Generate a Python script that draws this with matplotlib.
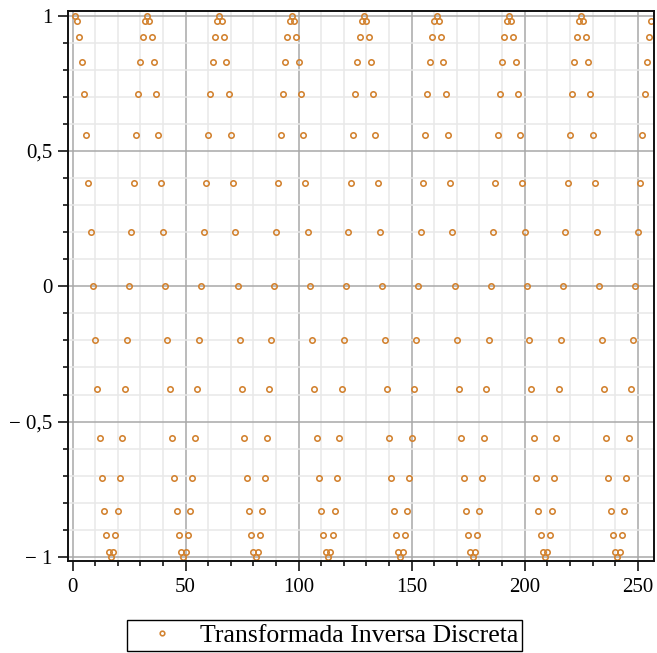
import numpy as np
import matplotlib
matplotlib.use("Agg")
import matplotlib.pyplot as plt
from matplotlib.ticker import MultipleLocator, FixedLocator, FixedFormatter

plt.rcParams['font.family'] = ['Liberation Serif', 'DejaVu Serif']

# one period (32 samples) of the reconstructed signal, repeated 8 times
one_period = [1.00, 0.98, 0.92, 0.83, 0.71, 0.56, 0.38, 0.20,
              0.00, -0.20, -0.38, -0.56, -0.71, -0.83, -0.92, -0.98,
              -1.00, -0.98, -0.92, -0.83, -0.71, -0.56, -0.38, -0.20,
              0.00, 0.20, 0.38, 0.56, 0.71, 0.83, 0.92, 0.98]
n_periods = 8
signal = np.tile(one_period, n_periods)
n = np.arange(1, len(signal) + 1)

xticks = [0, 50, 100, 150, 200, 250]
xticklabels = ['0', '50', '100', '150', '200', '250']
yticks = [-1, -0.5, 0, 0.5, 1]
yticklabels = ['\u2212 1', '\u2212 0,5', '0', '0,5', '1']
label = 'Transformada Inversa Discreta'
col = '#d2822f'

fig = plt.figure(figsize=(6.57, 6.53), dpi=100)
ax = fig.add_axes([68/657, 1 - 561/653, (654 - 68)/657, (561 - 11)/653])

ax.plot(n, signal, 'o', mfc='none', mec=col, ms=3.9, mew=1.15, label=label)

ax.set_xlim(-2.0, 257.2)
ax.set_ylim(-1.015, 1.017)

ax.xaxis.set_major_locator(FixedLocator(xticks))
ax.xaxis.set_major_formatter(FixedFormatter(xticklabels))
ax.xaxis.set_minor_locator(MultipleLocator(10))
ax.yaxis.set_major_locator(FixedLocator(yticks))
ax.yaxis.set_major_formatter(FixedFormatter(yticklabels))
ax.yaxis.set_minor_locator(MultipleLocator(0.1))

ax.grid(which='minor', color='#e8e8e8', lw=1.1)
ax.grid(which='major', color='#a8a8a8', lw=1.1)
ax.set_axisbelow(True)

for s in ax.spines.values():
    s.set_linewidth(1.4)
    s.set_color('#111111')

ax.tick_params(which='major', direction='out', length=7.2, width=1.1,
               labelsize=15, colors='black')
ax.tick_params(axis='x', which='major', pad=5)
ax.tick_params(axis='y', which='major', pad=4)
ax.tick_params(which='minor', direction='out', length=3.6, width=1.1)

leg = fig.legend(loc='center', bbox_to_anchor=(0.4939, 0.0268), fontsize=18.5,
                 frameon=True, fancybox=False, edgecolor='black', framealpha=1,
                 borderpad=0.15, handlelength=2.44, handletextpad=0.26,
                 markerscale=0.85)
leg.get_frame().set_linewidth(1.0)

fig.savefig('out.png', dpi=100)
